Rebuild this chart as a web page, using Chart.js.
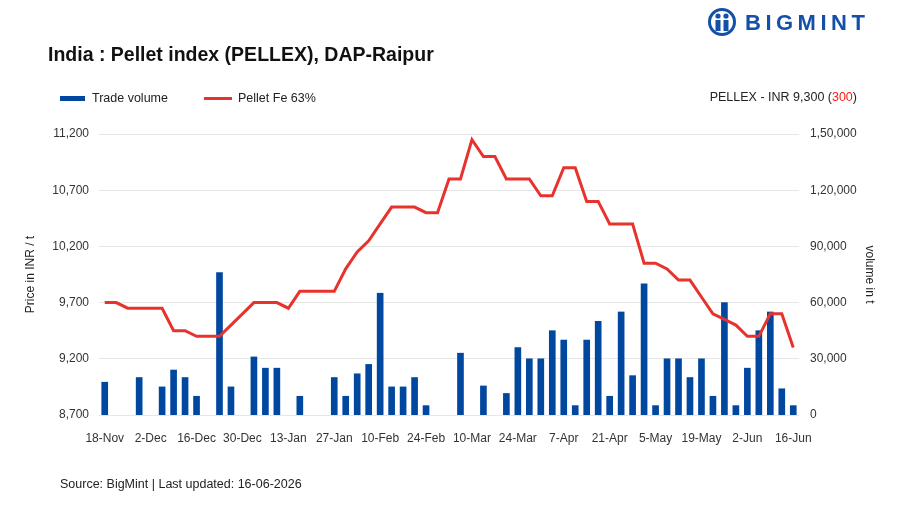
<!DOCTYPE html>
<html>
<head>
<meta charset="utf-8">
<script src="https://cdn.jsdelivr.net/npm/chart.js@4"></script>
<style>
  body { margin: 0; background: #fff; font-family: "Liberation Sans", Arial, sans-serif; }
  #wrap { position: relative; width: 900px; height: 508px; overflow: hidden; }
  #chart { position: absolute; left: 0; top: 0; }
  .txt { position: absolute; white-space: nowrap; color: #222; }
  #title { left: 48px; top: 43px; font-size: 19.5px; font-weight: bold; color: #111; }
  #logo { left: 707px; top: 7px; }
  #logoText { left: 745px; top: 10px; font-size: 22px; font-weight: bold; color: #1450a8; letter-spacing: 4.5px; }
  .legend { top: 91px; font-size: 12.5px; }
  .swatch { position: absolute; }
  #note { right: 43px; top: 90px; font-size: 12.5px; }
  #source { left: 60px; top: 477px; font-size: 12.5px; }
</style>
</head>
<body>
<div id="wrap">
  <canvas id="chart" width="900" height="508"></canvas>
  <div class="txt" id="title">India : Pellet index (PELLEX), DAP-Raipur</div>
  <svg class="txt" id="logo" width="30" height="30" viewBox="0 0 30 30">
    <circle cx="15" cy="15" r="12.5" fill="none" stroke="#1450a8" stroke-width="3"/>
    <circle cx="11" cy="9" r="2.6" fill="#1450a8"/>
    <circle cx="19" cy="9" r="2.6" fill="#1450a8"/>
    <rect x="8.5" y="13" width="5" height="11" fill="#1450a8"/>
    <rect x="16.5" y="13" width="5" height="11" fill="#1450a8"/>
  </svg>
  <div class="txt" id="logoText">BIGMINT</div>
  <div class="swatch" style="left:60px;top:96px;width:25px;height:5px;background:#0047a0"></div>
  <div class="txt legend" style="left:92px">Trade volume</div>
  <div class="swatch" style="left:204px;top:97px;width:28px;height:3px;background:#e8322d"></div>
  <div class="txt legend" style="left:238px">Pellet Fe 63%</div>
  <div class="txt" id="note">PELLEX - INR 9,300 (<span style="color:#ff1a1a">300</span>)</div>
  <div class="txt" id="source">Source: BigMint | Last updated: 16-06-2026</div>
</div>
<script>
const dates = ['18-Nov', '21-Nov', '25-Nov', '28-Nov', '2-Dec', '5-Dec', '9-Dec', '12-Dec',
  '16-Dec', '19-Dec', '23-Dec', '26-Dec', '30-Dec', '2-Jan', '6-Jan', '9-Jan',
  '13-Jan', '16-Jan', '20-Jan', '23-Jan', '27-Jan', '30-Jan', '3-Feb', '6-Feb',
  '10-Feb', '13-Feb', '17-Feb', '20-Feb', '24-Feb', '27-Feb', '3-Mar', '6-Mar',
  '10-Mar', '13-Mar', '17-Mar', '20-Mar', '24-Mar', '27-Mar', '31-Mar', '3-Apr',
  '7-Apr', '10-Apr', '14-Apr', '17-Apr', '21-Apr', '24-Apr', '28-Apr', '1-May',
  '5-May', '8-May', '12-May', '15-May', '19-May', '22-May', '26-May', '29-May',
  '2-Jun', '5-Jun', '9-Jun', '12-Jun', '16-Jun'];

const pelletPrice = [9700, 9700, 9650, 9650, 9650, 9650, 9450, 9450, 9400, 9400,
  9400, 9500, 9600, 9700, 9700, 9700, 9650, 9800, 9800, 9800,
  9800, 10000, 10150, 10250, 10400, 10550, 10550, 10550, 10500, 10500,
  10800, 10800, 11150, 11000, 11000, 10800, 10800, 10800, 10650, 10650,
  10900, 10900, 10600, 10600, 10400, 10400, 10400, 10050, 10050, 10000,
  9900, 9900, 9750, 9600, 9550, 9500, 9400, 9400, 9600, 9600,
  9300];

// null = no trade reported that day
const tradeVolume = [17500, null, null, 20000, null, 15000, 24000, 20000, 10000, null,
  76000, 15000, null, 31000, 25000, 25000, null, 10000, null, null,
  20000, 10000, 22000, 27000, 65000, 15000, 15000, 20000, 5000, null,
  null, 33000, null, 15500, null, 11500, 36000, 30000, 30000, 45000,
  40000, 5000, 40000, 50000, 10000, 55000, 21000, 70000, 5000, 30000,
  30000, 20000, 30000, 10000, 60000, 5000, 25000, 45000, 55000, 14000,
  5000];

const priceTicks = { min: 8700, max: 11200, step: 500 };
const volumeTicks = { min: 0, max: 150000, step: 30000 };

function indianFormat(n) {
  let s = String(Math.round(n));
  if (s.length <= 3) return s;
  let last3 = s.slice(-3);
  let rest = s.slice(0, -3);
  rest = rest.replace(/\B(?=(\d{2})+(?!\d))/g, ',');
  return rest + ',' + last3;
}

const tickFont = { family: '"Liberation Sans", Arial, sans-serif', size: 12 };

new Chart(document.getElementById('chart'), {
  type: 'bar',
  data: {
    labels: dates,
    datasets: [{
      type: 'line',
      label: 'Pellet Fe 63%',
      data: pelletPrice,
      yAxisID: 'y',
      borderColor: '#e8322d',
      borderWidth: 3,
      pointRadius: 0,
      tension: 0,
      order: 0
    },
    {
      label: 'Trade volume',
      data: tradeVolume,
      yAxisID: 'y1',
      backgroundColor: '#0047a0',
      barThickness: 6,
      order: 1
    }]
  },
  options: {
    responsive: false,
    animation: false,
    devicePixelRatio: 1,
    layout: { padding: { top: 134, left: 0, right: 0, bottom: 0 } },
    plugins: {
      legend: { display: false },
      tooltip: { enabled: false }
    },
    scales: {
      x: {
        grid: { display: false },
        border: { display: false },
        ticks: {
          autoSkip: false,
          maxRotation: 0,
          padding: 8,
          color: '#333',
          font: tickFont,
          callback: (val, i) => i % 4 === 0 ? dates[i] : ''
        },
        afterFit: s => { s.height = 93; }
      },
      y: {
        position: 'left',
        min: priceTicks.min,
        max: priceTicks.max,
        grid: { color: '#e6e6e6', lineWidth: 1, drawTicks: false },
        border: { display: false },
        ticks: {
          stepSize: priceTicks.step,
          padding: 10,
          color: '#333',
          font: tickFont,
          callback: v => v.toLocaleString('en-US')
        },
        title: {
          display: true,
          text: 'Price in INR / t',
          color: '#222',
          font: tickFont,
          padding: { top: 23, bottom: 0 }
        },
        afterFit: s => { s.width = 99; }
      },
      y1: {
        position: 'right',
        min: volumeTicks.min,
        max: volumeTicks.max,
        grid: { display: false, drawTicks: false },
        border: { display: false },
        ticks: {
          stepSize: volumeTicks.step,
          padding: 11,
          color: '#333',
          font: tickFont,
          callback: v => indianFormat(v)
        },
        title: {
          display: true,
          text: 'volume in t',
          color: '#222',
          font: tickFont,
          padding: { top: 23, bottom: 0 }
        },
        afterFit: s => { s.width = 101; }
      }
    }
  }
});
</script>
</body>
</html>
